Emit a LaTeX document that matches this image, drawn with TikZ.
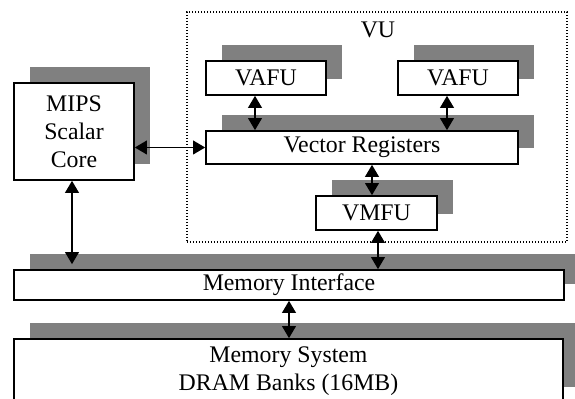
\documentclass[tikz,border=0pt]{standalone}
\usepackage{fontspec}
\setmainfont{Liberation Serif}
\usepackage{xcolor}
\usepackage{tikz}
\usetikzlibrary{arrows.meta,positioning,shadows}
\definecolor{ink}{HTML}{000000}
\definecolor{shade}{HTML}{808080}
\tikzset{
  every node/.style={font=\fontsize{11.9}{14}\selectfont,text=ink},
  unit/.style={draw=ink,line width=0.8pt,fill=white,align=center,inner sep=2pt,
    general shadow={fill=shade,shadow xshift=8pt,shadow yshift=8pt}},
  fu/.style={unit,minimum width=60pt,minimum height=17pt},
  wide/.style={unit,minimum height=16.5pt},
  group/.style={draw=ink,line width=0.7pt,dash pattern=on 0.6pt off 0.9pt},
  biarrow/.style={{Triangle[width=6.8pt,length=6pt]}-{Triangle[width=6.8pt,length=6pt]},line width=0.85pt,draw=ink}
}
\begin{document}
\begin{tikzpicture}[x=0.5pt,y=-0.5pt]
  \useasboundingbox (0,0) rectangle (575,399);
  \clip (0,0) rectangle (575,399);

  \node[group,minimum width=190pt,minimum height=115pt] (vu) at (377,127) {};
  \node (vulabel) at (378,30) {VU};

  \node[unit,minimum width=60pt,minimum height=48.5pt] (mips) at (74,131.5) {MIPS\\Scalar\\Core};
  \node[fu] (vafuA) at (266,78) {VAFU};
  \node[fu] (vafuB) at (458,78) {VAFU};
  \node[wide,minimum width=156pt] (vreg) at (362,147.5) {Vector Registers};
  \node[fu,minimum width=60.5pt] (vmfu) at (376.5,213) {VMFU};
  \node[unit,minimum width=275pt,minimum height=15pt] (memif) at (289,285) {Memory Interface};
  \node[unit,minimum width=274.5pt,minimum height=32pt] (memsys) at (288.5,371) {Memory System\\DRAM Banks (16MB)};

  \draw[biarrow] (mips.east |- vreg.west) -- (vreg.west);
  \draw[biarrow] ([xshift=-5.5pt]vafuA.south) -- ([xshift=-5.5pt]vafuA.south |- vreg.north);
  \draw[biarrow] ([xshift=-5.5pt]vafuB.south) -- ([xshift=-5.5pt]vafuB.south |- vreg.north);
  \draw[biarrow] ([xshift=-2.25pt]vmfu.north |- vreg.south) -- ([xshift=-2.25pt]vmfu.north);
  \draw[biarrow] ([xshift=0.75pt]vmfu.south) -- ([xshift=0.75pt]vmfu.south |- memif.north);
  \draw[biarrow,shorten >=2.5pt] ([xshift=-1pt]mips.south) -- ([xshift=-1pt]mips.south |- memif.north);
  \draw[biarrow] (memif.south) -- (memif.south |- memsys.north);
\end{tikzpicture}
\end{document}
